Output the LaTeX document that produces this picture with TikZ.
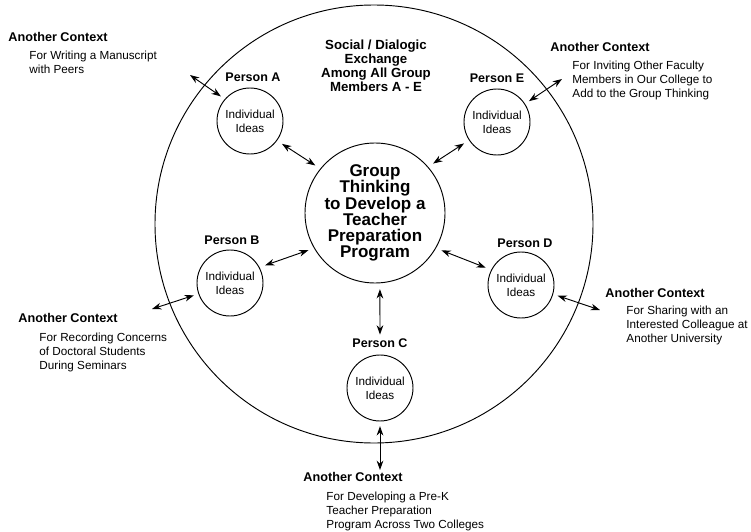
\documentclass[tikz,border=0pt]{standalone}
\usepackage{fontspec}
\setmainfont{Liberation Sans}
\usetikzlibrary{arrows.meta,positioning}

\begin{document}
\begin{tikzpicture}[>={Stealth[length=2.8mm,width=2mm]},x=0.03cm,y=-0.03cm,line width=0.8pt,
 every node/.style={inner sep=0pt},
 idea/.style={draw,circle,minimum size=1.98cm,align=center,font=\fontsize{10}{11.9}\selectfont},
 who/.style={font=\bfseries\fontsize{10.7}{12}\selectfont},
 ctx/.style={anchor=west,font=\bfseries\fontsize{10.8}{12}\selectfont},
 note/.style={anchor=north west,align=left,font=\fontsize{10}{11.9}\selectfont},
 link/.style={<->,shorten <=5pt,shorten >=5pt}]
\useasboundingbox (0,0) rectangle (751,532);
\node[draw,circle,minimum size=13.14cm] (room) at (374,224) {};
\node[draw,circle,minimum size=4.2cm,inner sep=-2pt,align=center,font=\bfseries\fontsize{14.5}{13.8}\selectfont] (group) at (375,213) {Group\\Thinking\\to Develop a\\Teacher\\Preparation\\Program};
\node[align=center,font=\bfseries\fontsize{11.3}{12}\selectfont] (talk) at (376,66) {Social / Dialogic\\Exchange\\Among All Group\\Members A - E};
\foreach \p/\x/\y/\lx/\ly in {A/250/121/253/77,B/230/283/232/240,C/380/388/380/343,D/521/285/525/243,E/497/122/497/78}{
  \node[idea] (p\p) at (\x,\y) {Individual\\Ideas};
  \node[who] (l\p) at (\lx,\ly) {Person \p};}
\draw[link] (pA.-36) -- (group.141);
\draw[link] (pE.213) -- (group.41);
\draw[link] (pB.28) -- (group.210);
\draw[link] (pD.153) -- (group.-30);
\draw[link,shorten >=3pt] (group.-86) -- (lC.north);
\foreach \p/\a/\x/\y in {A/139/190/75,E/33/562/79,B/199/152/309,D/-16/600/310,C/270/380/470}{
  \coordinate (o\p) at (\x,\y);
  \draw[<->,shorten <=4pt] (p\p.\a) -- (o\p);}
\foreach \p/\hx/\hy/\dx/\dy/\t in {A/8/37/29/50.5/{For Writing a Manuscript\\with Peers},
  E/550/47/572/60.5/{For Inviting Other Faculty\\Members in Our College to\\Add to the Group Thinking},
  B/18/318/39/332.5/{For Recording Concerns\\of Doctoral Students\\During Seminars},
  D/605/293/626/305.5/{For Sharing with an\\Interested Colleague at\\Another University},
  C/303/477/326/491.5/{For Developing a Pre-K\\Teacher Preparation\\Program Across Two Colleges}}{
  \node[ctx] (ctx\p) at (\hx,\hy) {Another Context};
  \node[note] (note\p) at (\dx,\dy) {\t};}
\end{tikzpicture}
\end{document}
